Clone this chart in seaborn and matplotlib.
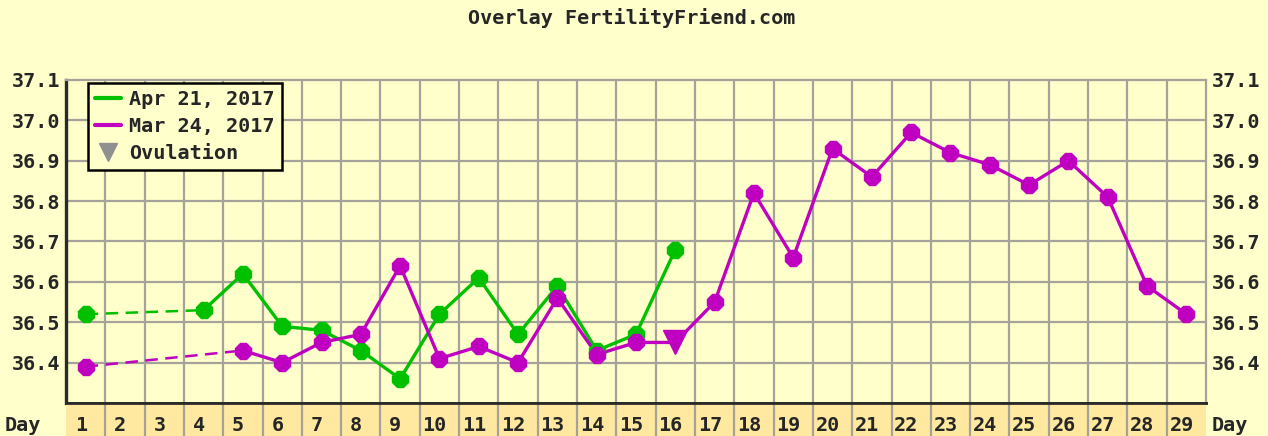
import matplotlib
matplotlib.use("Agg")
import matplotlib.pyplot as plt
from matplotlib.lines import Line2D
import numpy as np
import pandas as pd
import seaborn as sns

# chart data
days = list(range(1, 30))
apr_days = [1, 4, 5, 6, 7, 8, 9, 10, 11, 12, 13, 14, 15, 16]
apr_temps = [36.52, 36.53, 36.62, 36.49, 36.48, 36.43, 36.36, 36.52, 36.61, 36.47, 36.59, 36.43, 36.47, 36.68]
mar_days = [1, 5, 6, 7, 8, 9, 10, 11, 12, 13, 14, 15, 16, 17, 18, 19, 20, 21, 22, 23, 24, 25, 26, 27, 28, 29]
mar_temps = [36.39, 36.43, 36.40, 36.45, 36.47, 36.64, 36.41, 36.44, 36.40, 36.56, 36.42, 36.45, 36.45, 36.55,
             36.82, 36.66, 36.93, 36.86, 36.97, 36.92, 36.89, 36.84, 36.90, 36.81, 36.59, 36.52]
ovulation_day = 16
y_ticks = [36.4, 36.5, 36.6, 36.7, 36.8, 36.9, 37.0, 37.1]

GREEN = "#00c000"
MAGENTA = "#c000c0"
BG = "#ffffcc"
BAND = "#ffe8a0"
GRID = "#a5a29c"
DARK = "#2a2a2a"

sns.set_style("white")
plt.rcParams["font.family"] = ["DejaVu Sans Mono", "DejaVu Sans"]
plt.rcParams["font.weight"] = "bold"

W, H = 1268, 436
fig = plt.figure(figsize=(W / 100, H / 100), dpi=100, facecolor=BG)
L, R, T, B = 66, 1206, 80, 403
ax = fig.add_axes([L / W, 1 - B / H, (R - L) / W, (B - T) / H])
ax.set_facecolor(BG)
ax.set_xlim(0.5, 29.5)
ax.set_ylim(36.3, 37.1)

# grid
for x in np.arange(1.5, 29.5, 1):
    ax.axvline(x, color=GRID, lw=1.6, zorder=0)
for y in y_ticks[:-1]:
    ax.axhline(y, color=GRID, lw=1.6, zorder=0)

df_apr = pd.DataFrame({"day": apr_days, "temp": apr_temps})
df_mar = pd.DataFrame({"day": mar_days, "temp": mar_temps})

for df, col in [(df_apr, GREEN), (df_mar, MAGENTA)]:
    # dashed connector across missing days
    sns.lineplot(data=df.iloc[:2], x="day", y="temp", ax=ax, color=col, lw=1.8,
                 linestyle=(0, (5, 3)), zorder=2)
    sns.lineplot(data=df.iloc[1:], x="day", y="temp", ax=ax, color=col, lw=2.4, zorder=2)
    pts = df[df["day"] != ovulation_day] if col == MAGENTA else df
    ax.plot(pts["day"], pts["temp"], linestyle="none", marker="8", markersize=12.5,
            color=col, markeredgecolor=col, zorder=3)

ov_temp = mar_temps[mar_days.index(ovulation_day)]
ax.plot([ovulation_day], [ov_temp], linestyle="none", marker="v", markersize=17,
        color=MAGENTA, zorder=4)

ax.set_xlabel("")
ax.set_ylabel("")
ax.set_xticks([])
ax.set_yticks(y_ticks)
ax.set_yticklabels([f"{v:.1f}" for v in y_ticks])
ax.tick_params(axis="y", length=0, pad=4, labelsize=14.5, labelright=True, labelleft=True)
for lab in ax.get_yticklabels():
    lab.set_fontweight("bold")
ax.spines["left"].set_color(DARK)
ax.spines["left"].set_linewidth(2.4)
ax.spines["bottom"].set_color(DARK)
ax.spines["bottom"].set_linewidth(2.0)
ax.spines["top"].set_color(GRID)
ax.spines["top"].set_linewidth(1.6)
ax.spines["right"].set_color(GRID)
ax.spines["right"].set_linewidth(1.6)

# day band
bax = fig.add_axes([L / W, 0, (R - L) / W, (H - B) / H])
bax.set_facecolor(BAND)
bax.set_xlim(0.5, 29.5)
bax.set_ylim(0, 1)
bax.set_xticks([])
bax.set_yticks([])
for x in np.arange(1.5, 29.5, 1):
    bax.axvline(x, color=GRID, lw=1.6)
for s in ["left", "right", "bottom"]:
    bax.spines[s].set_visible(False)
bax.spines["top"].set_color(DARK)
bax.spines["top"].set_linewidth(2.0)
for d in days:
    bax.text(d - 0.12, 0.04, str(d), ha="center", va="bottom", fontsize=14.5, fontweight="bold")

fig.text(5 / W, 0.04 * (H - B) / H, "Day", ha="left", va="bottom", fontsize=14.5, fontweight="bold")
fig.text(1212 / W, 0.04 * (H - B) / H, "Day", ha="left", va="bottom", fontsize=14.5, fontweight="bold")

fig.text(632 / W, 1 - 18 / H, "Overlay FertilityFriend.com", ha="center", va="center",
         fontsize=14.5, fontweight="bold")

handles = [
    Line2D([], [], color=GREEN, lw=3),
    Line2D([], [], color=MAGENTA, lw=3),
    Line2D([], [], color="#909090", marker="v", markersize=13, linestyle="none"),
]
leg = ax.legend(handles, ["Apr 21, 2017", "Mar 24, 2017", "Ovulation"],
                loc="upper left", bbox_to_anchor=(88 / W, 1 - 83 / H),
                bbox_transform=fig.transFigure, borderaxespad=0, frameon=True,
                fancybox=False, facecolor=BG, edgecolor="black", framealpha=1,
                prop={"size": 14.5, "weight": "bold"}, handlelength=1.3,
                handletextpad=0.4, labelspacing=0.4, borderpad=0.35)
leg.get_frame().set_linewidth(1.8)

fig.savefig("out.png", dpi=100, facecolor=BG)
